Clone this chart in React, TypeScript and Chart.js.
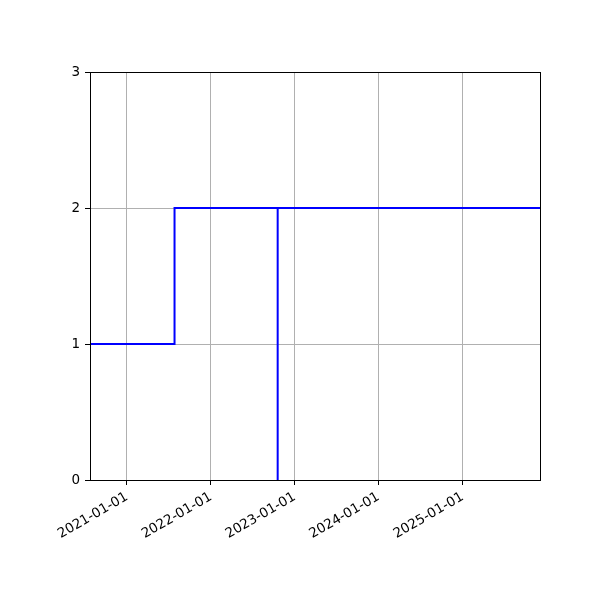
import { useEffect, useRef } from "react";
import { Chart, registerables, ChartConfiguration, Plugin } from "chart.js";

Chart.register(...registerables);

// step series: dates (ISO) and values
const stepDates: string[] = [
  "2020-07-24",
  "2021-07-27",
  "2022-10-19",
  "2022-10-19",
  "2025-12-04",
];
const stepValues: number[] = [1, 2, 0, 2, 2];

const xTickYears: number[] = [2021, 2022, 2023, 2024, 2025];
const yTicks: number[] = [0, 1, 2, 3];

const xMin = Date.parse("2020-07-24");
const xMax = Date.parse("2025-12-04");

function pad2(n: number): string {
  return n < 10 ? "0" + n : String(n);
}

function formatDate(ms: number): string {
  const d = new Date(ms);
  return (
    d.getUTCFullYear() + "-" + pad2(d.getUTCMonth() + 1) + "-" + pad2(d.getUTCDate())
  );
}

// draws the top and right spines like matplotlib
const frame: Plugin<"line"> = {
  id: "frame",
  afterDraw(chart) {
    const { ctx, chartArea } = chart;
    ctx.save();
    ctx.strokeStyle = "#000000";
    ctx.lineWidth = 1;
    ctx.strokeRect(
      Math.round(chartArea.left) + 0.5,
      Math.round(chartArea.top) + 0.5,
      Math.round(chartArea.right - chartArea.left),
      Math.round(chartArea.bottom - chartArea.top)
    );
    ctx.restore();
  },
};

function StepChart() {
  const canvasRef = useRef<HTMLCanvasElement | null>(null);

  useEffect(() => {
    if (!canvasRef.current) return;
    const points = stepDates.map((d, i) => ({ x: Date.parse(d), y: stepValues[i] }));
    const font = { family: "DejaVu Sans", size: 13.5 };
    const config: ChartConfiguration<"line"> = {
      type: "line",
      data: {
        datasets: [
          {
            data: points,
            stepped: "before",
            borderColor: "#0000ff",
            borderWidth: 2,
            pointRadius: 0,
            fill: false,
          },
        ],
      },
      options: {
        responsive: false,
        animation: false,
        devicePixelRatio: 1,
        layout: { padding: { top: 72, right: 60, left: 0, bottom: 0 } },
        plugins: {
          legend: { display: false },
          tooltip: { enabled: false },
        },
        scales: {
          x: {
            type: "linear",
            min: xMin,
            max: xMax,
            afterBuildTicks: (scale) => {
              scale.ticks = xTickYears.map((y) => ({ value: Date.UTC(y, 0, 1) }));
            },
            afterFit: (scale) => {
              scale.height = 120;
            },
            ticks: {
              callback: (v) => formatDate(Number(v)),
              minRotation: 30,
              maxRotation: 30,
              autoSkip: false,
              color: "#000000",
              font,
              padding: 4,
            },
            grid: {
              color: "#b0b0b0",
              lineWidth: 1,
              tickColor: "#000000",
              tickLength: 5,
            },
            border: { color: "#000000", width: 1 },
          },
          y: {
            type: "linear",
            min: 0,
            max: 3,
            afterBuildTicks: (scale) => {
              scale.ticks = yTicks.map((v) => ({ value: v }));
            },
            afterFit: (scale) => {
              scale.width = 90;
            },
            ticks: {
              color: "#000000",
              font,
              padding: 5,
            },
            grid: {
              color: "#b0b0b0",
              lineWidth: 1,
              tickColor: "#000000",
              tickLength: 5,
            },
            border: { color: "#000000", width: 1 },
          },
        },
      },
      plugins: [frame],
    };
    const chart = new Chart(canvasRef.current, config);
    return () => {
      chart.destroy();
    };
  }, []);

  return (
    <div style={{ position: "absolute", left: 0, top: 0, width: 600, height: 600, background: "#ffffff" }}>
      <canvas ref={canvasRef} width={600} height={600} />
    </div>
  );
}

export default function App() {
  return <StepChart />;
}
